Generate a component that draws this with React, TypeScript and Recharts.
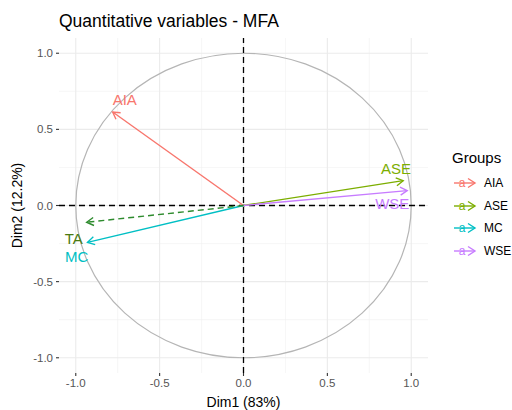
import React from 'react';
import {
  ScatterChart,
  Scatter,
  XAxis,
  YAxis,
  CartesianGrid,
  ReferenceLine,
  ReferenceArea,
  Label,
} from 'recharts';

// coordinates of the variables on the first two dimensions
const variables = ['AIA', 'ASE', 'MC', 'WSE', 'TA'];
const dim1 = [-0.78, 0.952, -0.93, 0.976, -0.935];
const dim2 = [0.614, 0.163, -0.242, 0.098, -0.11];
// where the repelled labels ended up
const labelDim1 = [-0.708, 0.91, -0.994, 0.887, -1.012];
const labelDim2 = [0.693, 0.242, -0.333, 0.013, -0.216];

const groups = ['AIA', 'ASE', 'MC', 'WSE'];
const majorTicks = [-1, -0.5, 0, 0.5, 1];
const minorTicks = [-0.75, -0.25, 0.25, 0.75];

const colors: Record<string, string> = {
  AIA: '#F8766D',
  ASE: '#7CAE00',
  MC: '#00BFC4',
  WSE: '#C77CFF',
  TA: '#2E8B2E',
};
const labelColors: Record<string, string> = { ...colors, TA: '#4A7A12' };

const FONT = '"Liberation Sans", Arial, sans-serif';

const labelData = variables.map((name, i) => ({ name, x: labelDim1[i], y: labelDim2[i] }));

function arrowShape(color: string, dashed: boolean) {
  return (props: any) => {
    const { x1, y1, x2, y2 } = props;
    const a = Math.atan2(y2 - y1, x2 - x1);
    const len = 8;
    const spread = Math.PI / 6;
    const p1 = `${x2 - len * Math.cos(a - spread)},${y2 - len * Math.sin(a - spread)}`;
    const p2 = `${x2 - len * Math.cos(a + spread)},${y2 - len * Math.sin(a + spread)}`;
    return (
      <g>
        <line x1={x1} y1={y1} x2={x2} y2={y2} stroke={color} strokeWidth={1.4} strokeDasharray={dashed ? '6 4' : undefined} />
        <polyline points={`${p1} ${x2},${y2} ${p2}`} fill="none" stroke={color} strokeWidth={1.4} />
      </g>
    );
  };
}

function circleShape(props: any) {
  const { x, y, width, height } = props;
  return (
    <ellipse
      cx={x + width / 2}
      cy={y + height / 2}
      rx={Math.abs(width) / 2}
      ry={Math.abs(height) / 2}
      fill="none"
      stroke="#B5B5B5"
      strokeWidth={1.2}
    />
  );
}

function LabelText(props: any) {
  const { cx, cy, payload } = props;
  return (
    <text x={cx} y={cy} textAnchor="middle" dominantBaseline="central" fontSize={15} fontFamily={FONT} fill={labelColors[payload.name]}>
      {payload.name}
    </text>
  );
}

function LegendIcon({ color }: { color: string }) {
  return (
    <svg width={24} height={14} style={{ display: 'block' }}>
      <line x1={1} y1={7} x2={22} y2={7} stroke={color} strokeWidth={1.4} />
      <polyline points="15,2.5 22,7 15,11.5" fill="none" stroke={color} strokeWidth={1.4} />
      <text x={9} y={11} textAnchor="middle" fontSize={12} fontFamily={FONT} fill={color}>a</text>
    </svg>
  );
}

export default function App() {
  const fmt = (v: number) => v.toFixed(1);
  return (
    <div style={{ position: 'absolute', left: 0, top: 0, width: 512, height: 410, background: '#fff', fontFamily: FONT }}>
      <div style={{ position: 'absolute', left: 59, top: 11, fontSize: 17.5, color: '#000', whiteSpace: 'nowrap' }}>
        Quantitative variables - MFA
      </div>
      <ScatterChart width={512} height={410} margin={{ top: 38, right: 84, left: 0, bottom: 0 }}>
        <CartesianGrid horizontalValues={minorTicks} verticalValues={minorTicks} stroke="#F0F0F0" strokeWidth={0.6} />
        <CartesianGrid horizontalValues={majorTicks} verticalValues={majorTicks} stroke="#EBEBEB" strokeWidth={1.1} />
        <XAxis
          type="number"
          dataKey="x"
          domain={[-1.1, 1.1]}
          ticks={majorTicks}
          tickFormatter={fmt}
          allowDataOverflow
          axisLine={false}
          tickSize={3}
          tickMargin={3}
          tickLine={{ stroke: '#333333', strokeWidth: 1.1 }}
          tick={{ fill: '#555555', fontSize: 11.5, fontFamily: FONT }}
          height={37}
        >
          <Label value="Dim1 (83%)" position="center" dy={11} style={{ fill: '#000', fontSize: 14, fontFamily: FONT }} />
        </XAxis>
        <YAxis
          type="number"
          dataKey="y"
          domain={[-1.1, 1.1]}
          ticks={majorTicks}
          tickFormatter={fmt}
          allowDataOverflow
          axisLine={false}
          tickSize={3}
          tickMargin={3}
          tickLine={{ stroke: '#333333', strokeWidth: 1.1 }}
          tick={{ fill: '#555555', fontSize: 11.5, fontFamily: FONT }}
          width={59}
        >
          <Label value="Dim2 (12.2%)" position="center" angle={-90} dx={-12} style={{ fill: '#000', fontSize: 14, fontFamily: FONT, textAnchor: 'middle' }} />
        </YAxis>
        <ReferenceArea x1={-1} x2={1} y1={-1} y2={1} shape={circleShape} ifOverflow="visible" />
        <ReferenceLine x={0} stroke="#000" strokeWidth={1.3} strokeDasharray="6 4" />
        <ReferenceLine y={0} stroke="#000" strokeWidth={1.3} strokeDasharray="6 4" />
        {variables.map((name, i) => (
          <ReferenceLine
            key={name}
            segment={[{ x: 0, y: 0 }, { x: dim1[i], y: dim2[i] }]}
            shape={arrowShape(colors[name], name === 'TA')}
            ifOverflow="visible"
          />
        ))}
        <Scatter data={labelData} shape={LabelText} isAnimationActive={false} />
      </ScatterChart>
      <div style={{ position: 'absolute', left: 452, top: 149, color: '#000' }}>
        <div style={{ fontSize: 15, marginBottom: 6 }}>Groups</div>
        {groups.map((g) => (
          <div key={g} style={{ display: 'flex', alignItems: 'center', height: 22.6 }}>
            <div style={{ marginLeft: 1, marginRight: 7 }}>
              <LegendIcon color={colors[g]} />
            </div>
            <span style={{ fontSize: 12 }}>{g}</span>
          </div>
        ))}
      </div>
    </div>
  );
}
